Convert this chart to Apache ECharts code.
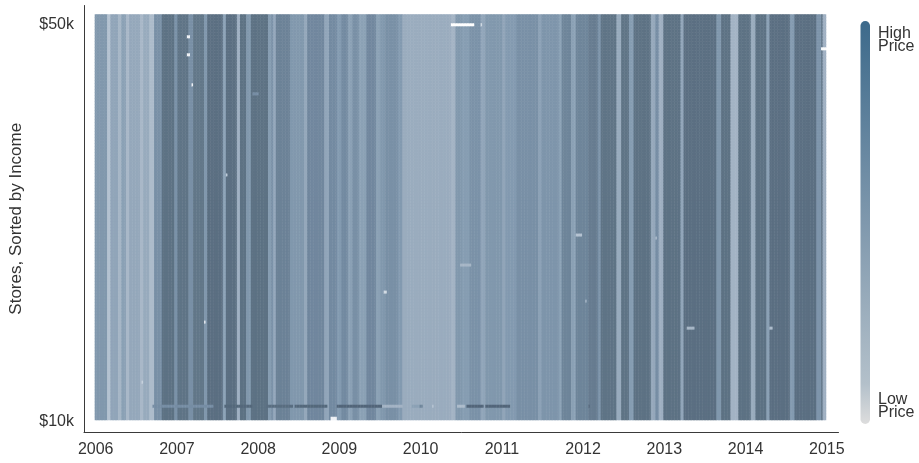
<!DOCTYPE html>
<html><head><meta charset="utf-8">
<style>html,body{margin:0;padding:0;background:#fff}#c{width:919px;height:463px;filter:blur(0.7px)}</style>
<script src="https://cdn.jsdelivr.net/npm/echarts@6/dist/echarts.min.js"></script>
</head><body><div id="c"></div>
<script>
// tick labels
const yearLabels = ['2006','2007','2008','2009','2010','2011','2012','2013','2014','2015'];
const incomeLabels = ['$50k','$10k'];
// weekly price stripes: first week of each run and its price level (0 low .. 100 high)
const stripeStart = [0,8,10,15,17,20,22,29,31,35,38,43,51,53,60,63,70,72,82,84,91,93,97,100,111,113,114,116,125,134,136,147,150,155,158,162,165,169,174,180,183,186,194,197,228,231,235,240,247,250,261,263,270,284,286,297,299,305,308,316,322,324,334,337,342,345,356,359,361,364,375,377,398,401,407,412,420,423,430,432,445,448,462,465,466];
const stripeLevel = [62,30,52,40,55,38,50,38,48,35,68,90,66,88,68,86,62,92,55,92,45,90,62,90,58,70,52,78,62,50,74,52,72,60,72,55,68,55,74,55,62,68,60,47,42,62,58,66,52,62,52,60,68,54,64,56,76,55,76,82,66,88,48,88,58,90,50,70,45,90,52,92,62,90,42,90,48,90,55,92,60,92,64,85,45];
// single store-week readings that differ from their stripe: [first week, last week, store row, level]
const outliers = [
 [228,242,6,0],[247,247,6,15],[59,60,10,5],[59,60,16,5],[62,62,26,5],[465,467,14,2],
 [101,104,29,70],[84,84,56,25],[70,70,105,10],[185,186,95,15],[30,30,125,20],[151,154,137,5],
 [308,311,76,30],[234,240,86,40],[379,383,107,40],[432,433,107,35],[314,314,98,45],[359,359,77,40],[316,316,133,95],
 [37,75,133,70],[83,100,133,98],[110,126,133,94],[128,148,133,98],[155,183,133,100],[184,196,133,42],
 [203,207,133,55],[208,209,133,76],[216,216,133,30],[232,236,133,35],[238,248,133,100],[250,265,133,100]
];
const totalWeeks = 468, padWeeks = 7, padTop = 3, storeRows = 135, padBottom = 4;
const levelAt = [];
for (let i = 0; i < stripeStart.length; i++) {
  const end = i + 1 < stripeStart.length ? stripeStart[i + 1] : totalWeeks;
  for (let w = stripeStart[i]; w < end; w++) levelAt[w] = stripeLevel[i];
}
const override = {};
outliers.forEach(([a, b, r, v]) => { for (let w = a; w <= b; w++) override[w + '_' + r] = v; });
const cells = [];
for (let w = 0; w < totalWeeks; w++) for (let r = 0; r < storeRows; r++) {
  const k = w + '_' + (r + padTop);
  cells.push([w + padWeeks, r + padTop, k in override ? override[k] : levelAt[w]]);
}
const xCats = [];
for (let i = 0; i < totalWeeks + 2 * padWeeks + 1; i++) {
  const w = i - padWeeks;
  xCats.push(w >= 0 && w % 52 === 0 ? yearLabels[w / 52] || '' : '');
}
const yCats = [];
for (let i = 0; i < padTop + storeRows + padBottom; i++) yCats.push(i === 6 ? incomeLabels[0] : i === 138 ? incomeLabels[1] : '');
const axisColor = '#3a3a3a', textColor = '#333';
const font = 'Liberation Sans';
const show = (i, v) => v !== '';
const chart = echarts.init(document.getElementById('c'), null, {renderer: 'canvas'});
chart.setOption({
  animation: false, backgroundColor: '#fff',
  grid: {left: 84, top: 5.5, width: 754.5, height: 426.5, containLabel: false, outerBoundsMode: 'none'},
  xAxis: {type: 'category', data: xCats, position: 'bottom', splitLine: {show: false}, splitArea: {show: false},
    axisLine: {show: true, lineStyle: {color: axisColor, width: 1}},
    axisTick: {alignWithLabel: true, interval: show, length: 6, lineStyle: {color: axisColor}},
    axisLabel: {interval: show, color: textColor, fontFamily: font, fontSize: 16, margin: 10}},
  yAxis: {type: 'category', inverse: true, data: yCats, splitLine: {show: false}, splitArea: {show: false},
    name: 'Stores, Sorted by Income', nameLocation: 'middle', nameRotate: 90, nameGap: 59,
    nameTextStyle: {color: textColor, fontFamily: font, fontSize: 17},
    axisLine: {show: true, lineStyle: {color: axisColor, width: 1}},
    axisTick: {alignWithLabel: true, interval: show, length: 6, lineStyle: {color: axisColor}},
    axisLabel: {interval: show, color: textColor, fontFamily: font, fontSize: 16, margin: 10}},
  visualMap: {show: false, type: 'continuous', dimension: 2, min: 0, max: 100, seriesIndex: 0,
    inRange: {color: ['#ffffff','#d2dbe4','#b6c4d2','#a2b2c3','#879eb3','#748ba2','#627789','#526579']}},
  series: [{type: 'heatmap', data: cells, progressive: 0, silent: true, emphasis: {disabled: true}}],
  graphic: [
    {type: 'rect', shape: {x: 860.5, y: 21, width: 9.5, height: 403, r: 4.75}, style: {fill: new echarts.graphic.LinearGradient(0,0,0,1,[
      {offset: 0, color: '#3d6a8b'},{offset: 0.5, color: '#7f98ad'},{offset: 0.9, color: '#b3c0ca'},{offset: 1, color: '#dddddd'}])}},
    {type: 'text', style: {x: 878, y: 26, text: 'High', fill: textColor, font: '16px "Liberation Sans"'}},
    {type: 'text', style: {x: 878, y: 39, text: 'Price', fill: textColor, font: '16px "Liberation Sans"'}},
    {type: 'text', style: {x: 878, y: 392, text: 'Low', fill: textColor, font: '16px "Liberation Sans"'}},
    {type: 'text', style: {x: 878, y: 405, text: 'Price', fill: textColor, font: '16px "Liberation Sans"'}}
  ]
});
</script></body></html>
